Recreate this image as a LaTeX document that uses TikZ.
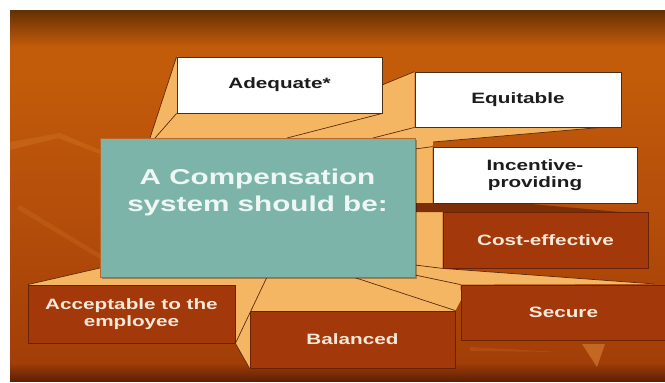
\documentclass[tikz,border=0pt]{standalone}
\usepackage{fontspec}
\setmainfont{Liberation Sans}[FakeStretch=1.38]
\usetikzlibrary{shadows}

\definecolor{face}{HTML}{F4B663}
\definecolor{faceband}{HTML}{7C2F07}
\definecolor{ridgecol}{HTML}{5C2A0C}
\definecolor{rust}{HTML}{A3390B}
\definecolor{rustedge}{HTML}{6A2206}
\definecolor{boxline}{HTML}{4A2E18}
\definecolor{corefill}{HTML}{7DB4AA}
\definecolor{coreedge}{HTML}{B8682A}
\definecolor{coretext}{HTML}{EEF7F4}
\definecolor{cream}{HTML}{F8E8D8}
\definecolor{ink}{HTML}{1C1C1C}
\definecolor{bgtop}{HTML}{643005}
\definecolor{bgorange}{HTML}{C35C0A}
\definecolor{bgmid}{HTML}{B24C0A}
\definecolor{bgred}{HTML}{A23E08}
\definecolor{bgbot}{HTML}{5E2003}
\definecolor{streak}{HTML}{E89A45}

% the picture area spans 25bp..75bp of this shading
\pgfdeclareverticalshading{bgshade}{100bp}{%
  color(0bp)=(bgbot); color(25bp)=(bgbot); color(27.5bp)=(bgred); color(45bp)=(bgmid);
  color(67bp)=(bgorange); color(70bp)=(bgorange); color(75bp)=(bgtop); color(100bp)=(bgtop)}

\pgfdeclarelayer{back}
\pgfdeclarelayer{faces}
\pgfsetlayers{back,faces,main}

\begin{document}
\begin{tikzpicture}[x=1pt,y=-1pt,
  box/.style={inner sep=0pt, align=center, line width=0.8pt,
    font=\fontsize{15}{17}\selectfont\bfseries,
    drop shadow={shadow xshift=1.2pt, shadow yshift=-1.2pt, fill=black, opacity=0.35}},
  lightbox/.style={box, fill=white, draw=boxline, text=ink},
  rustbox/.style={box, fill=rust, draw=rustedge, text=cream},
  ridge/.style={draw=ridgecol, line width=0.7pt}]

\useasboundingbox (0,0) rectangle (665,383);

% the option boxes
\node[lightbox, minimum width=205pt, minimum height=56pt] (adq)  at (279.5,85)   {Adequate*};
\node[lightbox, minimum width=206pt, minimum height=55pt] (equ)  at (518,99.5)   {Equitable};
\node[lightbox, minimum width=204pt, minimum height=56pt] (inc)  at (535,175)    {Incentive-\\providing};
\node[rustbox,  minimum width=205pt, minimum height=56pt] (cost) at (545.5,240)  {Cost-effective};
\node[rustbox,  minimum width=207pt, minimum height=58pt] (acc)  at (131.5,314)  {Acceptable to the\\employee};
\node[rustbox,  minimum width=205pt, minimum height=57pt] (bal)  at (352.5,339.5){Balanced};
\node[rustbox,  minimum width=205pt, minimum height=55pt] (sec)  at (563.5,312.5){Secure};

% the central block
\node[fill=corefill, draw=coreedge, line width=0.8pt, inner sep=0pt,
      minimum width=315pt, minimum height=139pt,
      drop shadow={shadow xshift=1.5pt, shadow yshift=-1.5pt, fill=black, opacity=0.3}]
      (core) at (257.5,207.5) {};
\node[text=coretext, align=center, font=\fontsize{21.5}{27}\selectfont\bfseries]
      (title) at (257.5,192) {A Compensation\\system should be:};

% backdrop
\begin{pgfonlayer}{back}
  \fill[white] (0,0) rectangle (665,383);
  \shade[shading=bgshade] (10,10) rectangle (665,381);
  \fill[streak, opacity=0.18] (10,142) -- (60,133) -- (100,150) -- (100,154) -- (58,138) -- (10,150) -- cycle;
  \fill[streak, opacity=0.15] (20,205) -- (100,254) -- (100,259) -- (17,209) -- cycle;
  \fill[streak, opacity=0.45] (582,344) -- (605,344) -- (597,367) -- cycle;
  \fill[streak, opacity=0.15] (470,347) -- (560,352) -- (470,351) -- cycle;
\end{pgfonlayer}

% receding faces joining the boxes to the central block
\begin{pgfonlayer}{faces}
  \fill[face]
    (adq.north west) -- (150,138) -- (110,150) -- (100,268) -- (acc.north west)
    -- (200,300) -- (acc.south east) -- (bal.south west) -- (330,330)
    -- (bal.north east) -- (461,300) -- (sec.north west) -- (655,284)
    -- (cost.south west) -- (cost.north west) -- (415,212) -- (415,203)
    -- (inc.south west) -- (inc.north west) -- (433,142) -- (600,127.5)
    -- (equ.south west) -- (equ.north west) -- (382,85) -- (300,70) -- cycle;
  \fill[faceband] (415,203) -- (520,203) -- (620,212) -- (415,212) -- cycle;

  \draw[ridge] (adq.north west) -- (150,138);
  \draw[ridge] (adq.south west) -- (155,138);
  \draw[ridge] (adq.south east) -- (287,138);
  \draw[ridge] (equ.north west) -- (382,85);
  \draw[ridge] (equ.south west) -- (373,138);
  \draw[ridge] (433,142) -- (600,127.5);
  \draw[ridge] (inc.north west) -- (415,149);
  \draw[ridge] (cost.south west) -- (415,265);
  \draw[ridge] (cost.south west) -- (655,284);
  \draw[ridge] (sec.north west) -- (415,275);
  \draw[ridge] (bal.north east) -- (353,277);
  \draw[ridge] (acc.south east) -- (267,277);
  \draw[ridge] (acc.south east) -- (bal.south west);
  \draw[ridge] (acc.north west) -- (100,268);
\end{pgfonlayer}
\end{tikzpicture}
\end{document}
